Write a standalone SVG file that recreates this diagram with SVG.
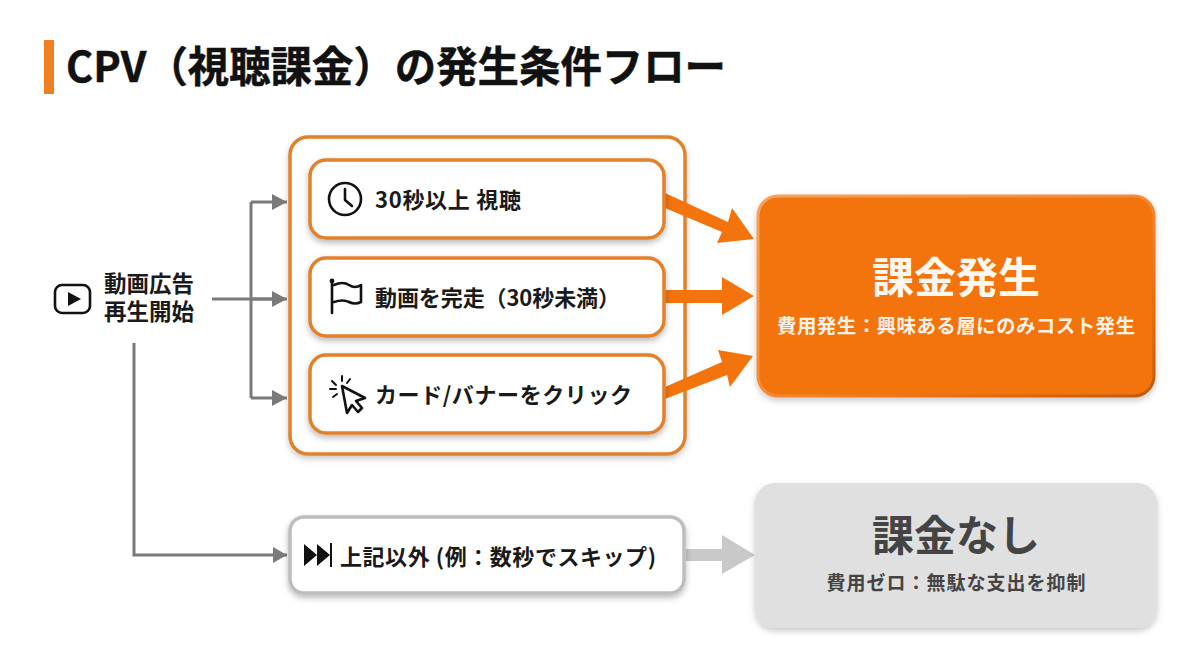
<svg xmlns="http://www.w3.org/2000/svg" width="1200" height="670" viewBox="0 0 1200 670">
<style>
text{font-family:"Noto Sans CJK JP","Noto Sans",sans-serif;font-weight:700;fill:#1a1a1a}
.card{fill:#fff;stroke:#e2812c;stroke-width:3.5}
.ln{fill:none;stroke:#7a7a7a;stroke-width:3}
.ic{fill:none;stroke:#111;stroke-width:2.6;stroke-linecap:round;stroke-linejoin:round}
.thin{stroke-width:2}
.label{font-size:22px}
</style>
<defs>
<filter id="sh" x="-10%" y="-20%" width="120%" height="140%"><feDropShadow dx="0" dy="3" stdDeviation="3" flood-color="#000" flood-opacity=".28"/></filter>
<filter id="sh2" x="-10%" y="-10%" width="120%" height="125%"><feDropShadow dx="0" dy="3" stdDeviation="3" flood-color="#000" flood-opacity=".22"/></filter>
<linearGradient id="edge" x1="0" y1="0" x2="1" y2="1"><stop offset="0" stop-color="#f8a35c"/><stop offset=".5" stop-color="#f48a35"/><stop offset=".8" stop-color="#e0690f"/><stop offset="1" stop-color="#bd5a10"/></linearGradient>
<marker id="ga" markerUnits="userSpaceOnUse" markerWidth="16" markerHeight="16" refX="15" refY="8" orient="auto"><path d="M0 0L15 8L0 16Z" fill="#7a7a7a"/></marker>
</defs>
<g id="title">
<rect x="44" y="40" width="10" height="54" fill="#f0801f"/>
<text x="66" y="82" font-size="42" textLength="660" lengthAdjust="spacingAndGlyphs" style="fill:#111;stroke:#111;stroke-width:.5">CPV（視聴課金）の発生条件フロー</text>
</g>
<g id="group-box"><rect x="290" y="137" width="395" height="317" rx="18" class="card" filter="url(#sh2)"/></g>
<g id="connectors">
<path class="ln" d="M212 299H272"/>
<path class="ln" d="M251 299V202M251 299V398"/>
<path class="ln" d="M251 202H287" marker-end="url(#ga)"/>
<path class="ln" d="M251 299H287" marker-end="url(#ga)"/>
<path class="ln" d="M251 398H287" marker-end="url(#ga)"/>
<path class="ln" d="M134 343V555H287"/>
<path d="M273 547L287 555L273 563Z" fill="#7a7a7a"/>
<path d="M665 193L728 222L732 208L754 239L717 243L722 232L665 208Z" fill="#f3730d"/>
<path d="M665 290H722V277L754 296L722 315V303H665Z" fill="#f3730d"/>
<path d="M665 387L722 362L718 350L753 356L730 387L727 375L665 399Z" fill="#f3730d"/>
<path d="M686 549H722V535L755 555L722 574V561H686Z" fill="#c9c9c9"/>
</g>
<g id="start">
<rect x="55" y="285" width="35" height="28" rx="7" class="ic"/>
<path d="M68 292L81 299L68 306Z" fill="#111"/>
<text style="font-size:22.5px"><tspan x="104" y="292">動画広告</tspan><tspan x="104" y="320">再生開始</tspan></text>
</g>
<g id="opt1">
<rect x="310" y="160" width="354" height="78" rx="16" class="card" filter="url(#sh)"/>
<circle cx="345" cy="199" r="16" class="ic"/>
<path class="ic" d="M345 189V200L352 206"/>
<text x="375" y="208" class="label" textLength="146">30秒以上 視聴</text>
</g>
<g id="opt2">
<rect x="310" y="258" width="354" height="78" rx="16" class="card" filter="url(#sh)"/>
<path class="ic" d="M332 282V313"/><circle cx="332" cy="281" r="2.4" fill="#111"/>
<path class="ic" d="M334 285Q343 281 349 285T361 285V302Q355 305 349 302T334 302"/>
<text x="375" y="306" class="label" textLength="245">動画を完走（30秒未満）</text>
</g>
<g id="opt3">
<rect x="310" y="355" width="354" height="78" rx="16" class="card" filter="url(#sh)"/>
<path class="ic" d="M342 386L347 413L352 405L358 412L362 408L356 401L365 398Z"/>
<path class="ic thin" d="M342 376V381M332 381L336 385M350 379L347 383M330 389H336M333 397L337 394"/>
<text x="375" y="403" class="label" textLength="257">カード/バナーをクリック</text>
</g>
<g id="charged">
<rect x="758" y="196" width="396" height="200" rx="20" fill="#f3730d" stroke="url(#edge)" stroke-width="3" filter="url(#sh2)"/>
<text x="956" y="293" text-anchor="middle" font-size="42" style="fill:#fff8f0">課金発生</text>
<text x="956" y="333" text-anchor="middle" font-size="19.5" style="fill:#fff2e6" textLength="358">費用発生：興味ある層にのみコスト発生</text>
</g>
<g id="skip">
<rect x="290" y="517" width="394" height="76" rx="14" fill="#fff" stroke="#bdbdbd" stroke-width="3.5" filter="url(#sh)"/>
<path d="M304 544L317 555L304 566ZM317 544L330 555L317 566Z" fill="#111"/><path d="M331 543V567" stroke="#111" stroke-width="2"/>
<text x="340" y="565" style="font-size:22px" textLength="316">上記以外 (例：数秒でスキップ)</text>
</g>
<g id="nocharge">
<rect x="755" y="483" width="402" height="145" rx="20" fill="#e0e0e0" filter="url(#sh2)"/>
<text x="956" y="551" text-anchor="middle" font-size="42" style="fill:#444">課金なし</text>
<text x="956" y="590" text-anchor="middle" font-size="19" style="fill:#444" textLength="259">費用ゼロ：無駄な支出を抑制</text>
</g>
</svg>
